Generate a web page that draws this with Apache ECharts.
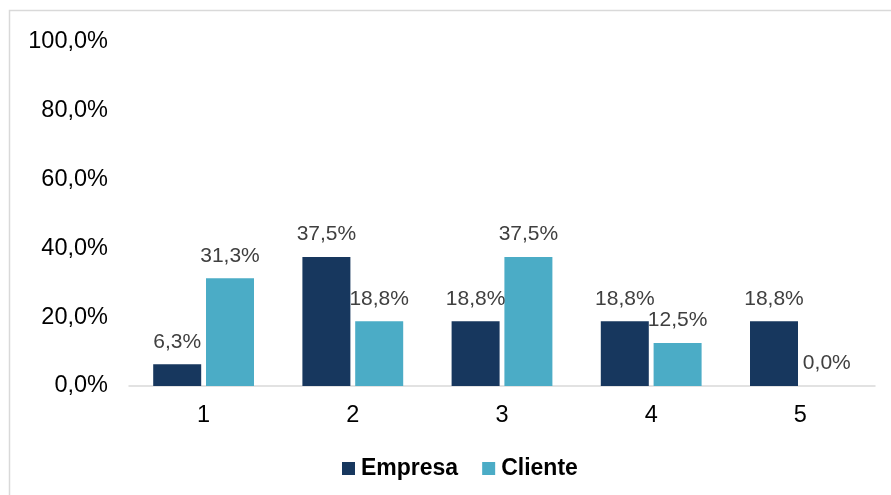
<!DOCTYPE html>
<html>
<head>
<meta charset="utf-8">
<script src="https://cdn.jsdelivr.net/npm/echarts@6/dist/echarts.min.js"></script>
<style>
  html, body { margin: 0; padding: 0; background: #ffffff; }
  #chart { width: 891px; height: 495px; }
</style>
</head>
<body>
<div id="chart"></div>
<script>
// Categories and percentage values per group
const categories = ['1', '2', '3', '4', '5'];
const empresa = [6.3, 37.5, 18.8, 18.8, 18.8];
const cliente = [31.3, 18.8, 37.5, 12.5, 0.0];
const seriesNames = ['Empresa', 'Cliente'];

const fmtPct = v => v.toFixed(1).replace('.', ',') + '%';
const font = 'Arial, "Liberation Sans", sans-serif';

const labelStyle = {
  show: true,
  position: 'top',
  distance: 12,
  color: '#404040',
  fontSize: 21,
  fontFamily: font,
  formatter: p => fmtPct(p.value)
};

const chart = echarts.init(document.getElementById('chart'), null, { renderer: 'canvas' });
chart.setOption({
  animation: false,
  backgroundColor: '#ffffff',
  grid: { left: 129, right: 16, top: 42, bottom: 109, containLabel: false },
  graphic: [{
    type: 'rect',
    shape: { x: 9.5, y: 10.5, width: 920, height: 520 },
    style: { fill: 'none', stroke: '#d9d9d9', lineWidth: 1.5 },
    silent: true
  }],
  legend: {
    data: seriesNames,
    left: 337,
    top: 452,
    itemWidth: 13,
    itemHeight: 13,
    itemGap: 24,
    icon: 'rect',
    textStyle: { fontSize: 23, fontWeight: 'bold', color: '#000000', fontFamily: font, padding: [0, 0, 0, 1] }
  },
  xAxis: {
    type: 'category',
    data: categories,
    axisLine: { show: true, lineStyle: { color: '#d9d9d9', width: 1.5 } },
    axisTick: { show: false },
    axisLabel: { color: '#000000', fontSize: 23.5, fontFamily: font, margin: 18 }
  },
  yAxis: {
    type: 'value',
    min: 0,
    max: 100,
    interval: 20,
    axisLine: { show: false },
    axisTick: { show: false },
    splitLine: { show: false },
    axisLabel: { color: '#000000', fontSize: 23.5, fontFamily: font, margin: 21, formatter: v => fmtPct(v) }
  },
  series: [
    {
      name: seriesNames[0],
      type: 'bar',
      data: empresa,
      barWidth: 48,
      barGap: '10%',
      itemStyle: { color: '#17375e' },
      label: labelStyle
    },
    {
      name: seriesNames[1],
      type: 'bar',
      data: cliente,
      barWidth: 48,
      barGap: '10%',
      itemStyle: { color: '#4bacc6' },
      label: labelStyle
    }
  ]
});
</script>
</body>
</html>
